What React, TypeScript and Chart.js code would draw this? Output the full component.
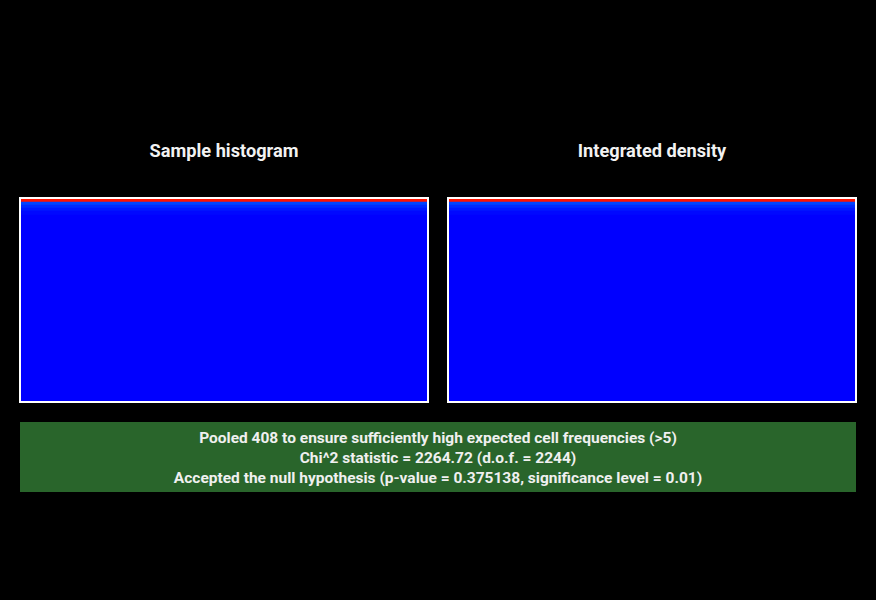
import React, { useEffect, useRef } from "react";
import { Chart, registerables } from "chart.js";

Chart.register(...registerables);

// ---- data ----
const panelTitles = ["Sample histogram", "Integrated density"];
const categories = ["cells"];
// horizontal bands of the colour map, bottom to top (in pixel-rows of the map)
const sampleBands = [186, 4, 3, 3, 3, 3];
const densityBands = [186, 4, 3, 3, 3, 3];
const bandColors = ["#0000ff", "#0008ff", "#0016ff", "#002aff", "#0044ff", "#ff1200"];
const infoLines = [
  "Pooled 408 to ensure sufficiently high expected cell frequencies (>5)",
  "Chi^2 statistic = 2264.72 (d.o.f. = 2244)",
  "Accepted the null hypothesis (p-value = 0.375138, significance level = 0.01)",
];

const FONT = "Roboto, 'Noto Sans', sans-serif";

function Panel({ bands, left }: { bands: number[]; left: number }) {
  const ref = useRef<HTMLCanvasElement | null>(null);
  useEffect(() => {
    if (!ref.current) return;
    const total = bands.reduce((a, b) => a + b, 0);
    const chart = new Chart(ref.current, {
      type: "bar",
      data: {
        labels: categories,
        datasets: bands.map((v, i) => ({
          label: "band " + i,
          data: [v],
          backgroundColor: bandColors[i],
          borderWidth: 0,
          barPercentage: 1,
          categoryPercentage: 1,
        })),
      },
      options: {
        responsive: false,
        animation: false,
        events: [],
        layout: { padding: 0 },
        plugins: { legend: { display: false }, tooltip: { enabled: false }, title: { display: false } },
        scales: {
          x: { stacked: true, display: false, offset: true },
          y: { stacked: true, display: false, min: 0, max: total },
        },
      },
    });
    return () => chart.destroy();
  }, [bands]);
  return (
    <div
      style={{
        position: "absolute",
        left,
        top: 197,
        width: 406,
        height: 202,
        border: "2px solid #ffffff",
        background: "#0000ff",
      }}
    >
      <canvas ref={ref} width={406} height={202} style={{ display: "block", width: 406, height: 202 }} />
    </div>
  );
}

export default function App() {
  return (
    <div style={{ position: "fixed", left: 0, top: 0, width: 876, height: 600, background: "#000", overflow: "hidden", fontFamily: FONT }}>
      {panelTitles.map((t, i) => (
        <div
          key={t}
          style={{
            position: "absolute",
            left: i === 0 ? 19 : 447,
            width: 410,
            top: 139,
            textAlign: "center",
            color: "#f2f2f2",
            fontWeight: 700,
            fontSize: 18.2,
            lineHeight: "24px",
          }}
        >
          {t}
        </div>
      ))}
      <Panel bands={sampleBands} left={19} />
      <Panel bands={densityBands} left={447} />
      <div
        style={{
          position: "absolute",
          left: 20,
          top: 422,
          width: 836,
          height: 70,
          background: "#29652b",
          color: "#f0f0f0",
          fontWeight: 700,
          fontSize: 15.5,
          lineHeight: "20px",
          textAlign: "center",
          paddingTop: 6,
          boxSizing: "border-box",
        }}
      >
        {infoLines.map((l) => (
          <div key={l}>{l}</div>
        ))}
      </div>
    </div>
  );
}
